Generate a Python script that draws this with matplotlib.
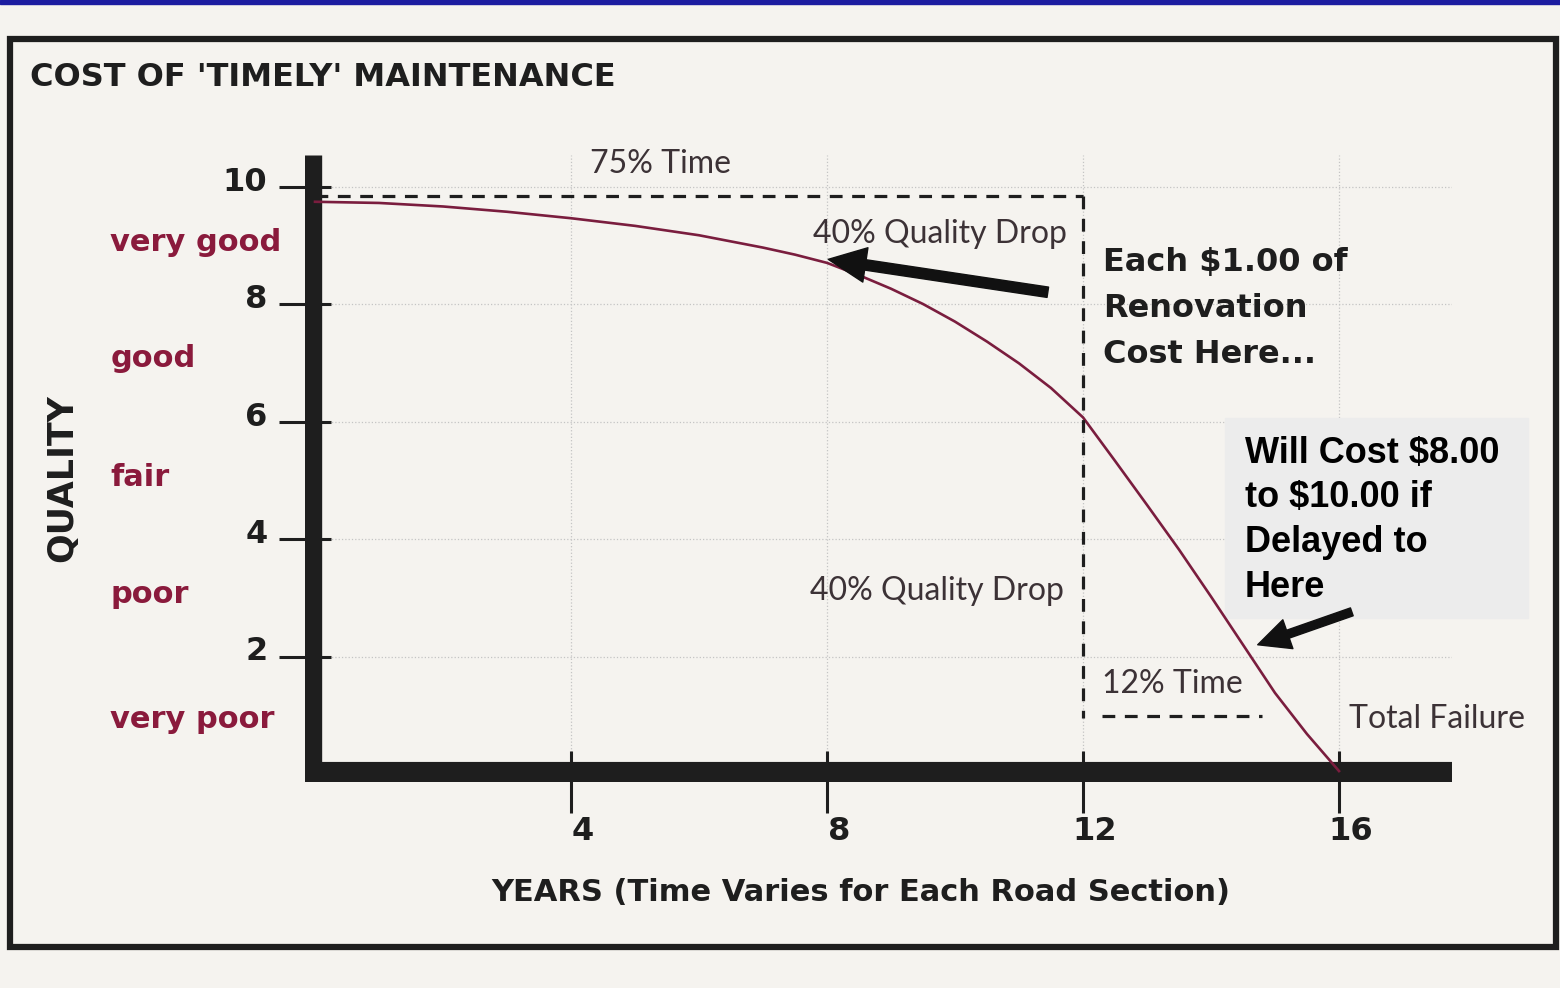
import matplotlib
matplotlib.use("Agg")
import matplotlib.pyplot as plt
import matplotlib.transforms as mtrans
from matplotlib.patches import Rectangle

# quality curve
years = [0, 1, 2, 3, 4, 5, 6, 7, 7.5, 8, 8.5, 9, 9.5, 10, 10.5, 11, 11.5, 12,
         12.5, 13, 13.5, 14, 14.5, 15, 15.5, 16]
quality = [9.74, 9.72, 9.66, 9.57, 9.46, 9.33, 9.17, 8.96, 8.84, 8.70, 8.49, 8.26,
           8.0, 7.7, 7.36, 6.99, 6.57, 6.07, 5.33, 4.58, 3.82, 3.02, 2.2, 1.38, 0.68, 0.05]

ytick_vals = [2, 4, 6, 8, 10]
xtick_vals = [4, 8, 12, 16]
grade_names = ["very good", "good", "fair", "poor", "very poor"]
grade_levels = [9.05, 7.08, 5.04, 3.05, 0.92]

W, H = 1560, 988
BG = "#f5f3ef"
MAROON = "#8a1a3c"
INK = "#1e1e1e"
LIGHT_TXT = "#3c3236"
LIGHT = ["Lato", "DejaVu Sans"]

fig = plt.figure(figsize=(W / 100, H / 100), dpi=100)
fig.patch.set_facecolor(BG)

# overlay in pixel coords for frame and free text
bg = fig.add_axes([0, 0, 1, 1], zorder=5)
bg.set_xlim(0, W)
bg.set_ylim(H, 0)
bg.axis("off")
bg.patch.set_alpha(0)

bg.add_patch(Rectangle((0, 0), W, 4, color="#1c1ca0"))
bg.add_patch(Rectangle((10, 39), 1546, 908, fill=False, lw=4.5, ec=INK))

bg.text(30, 77, "COST OF 'TIMELY' MAINTENANCE", weight="bold",
        fontsize=23, color=INK, va="center")
bg.text(62, 478, "QUALITY", weight="bold", fontsize=25,
        color=INK, rotation=90, ha="center", va="center")
bg.text(861, 892, "YEARS (Time Varies for Each Road Section)",
        weight="bold", fontsize=22, color=INK, ha="center", va="center")

# main chart axes
x0, x1 = 305, 1452
y0, y1 = 155, 782
ax = fig.add_axes([x0 / W, 1 - y1 / H, (x1 - x0) / W, (y1 - y0) / H], zorder=2)
ax.patch.set_alpha(0)
ax.set_xlim((x0 - 315) / 64, (x1 - 315) / 64)
ax.set_ylim((774 - y1) / 58.75, (774 - y0) / 58.75)
for s in ax.spines.values():
    s.set_visible(False)

ax.set_axisbelow(True)
ax.grid(True, color="#c4c4c4", lw=0.9, ls=":")

ax.axvline(ax.get_xlim()[0] + 0.13, color=INK, lw=12.5, solid_capstyle="butt")
ax.axhline(0.034, color=INK, lw=14.5, solid_capstyle="butt")

ax.set_yticks(ytick_vals)
ax.set_yticklabels([str(v) for v in ytick_vals], weight="bold", fontsize=23, color=INK)
ax.set_xticks(xtick_vals)
ax.set_xticklabels([str(v) for v in xtick_vals], weight="bold", fontsize=23, color=INK)
ax.tick_params(axis="y", direction="inout", length=38, width=2.2, pad=8, color=INK)
ax.tick_params(axis="x", direction="inout", length=45, width=2.2, pad=2, color=INK)
for lab in ax.get_yticklabels():
    lab.set_transform(lab.get_transform() + mtrans.ScaledTranslation(0, 0.08, fig.dpi_scale_trans))
for lab in ax.get_xticklabels():
    lab.set_transform(lab.get_transform() + mtrans.ScaledTranslation(0.12, 0, fig.dpi_scale_trans))

for name, lvl in zip(grade_names, grade_levels):
    ax.text(-3.2, lvl, name, weight="bold", fontsize=22,
            color=MAROON, va="center", ha="left")

# grey note box behind text
ax.add_patch(Rectangle((1225, 418), 303, 200, transform=bg.transData,
                       color="#ececec", zorder=1, clip_on=False))

ax.plot(years, quality, color="#7a1d3e", lw=1.9, zorder=3, solid_joinstyle="round")

dash = (0, (4, 3))
ax.plot([0, 12], [9.84, 9.84], color=INK, lw=2.3, ls=dash, zorder=3)
ax.plot([12, 12], [9.84, 0.95], color=INK, lw=2.3, ls=dash, zorder=3)
ax.plot([12.3, 14.8], [0.98, 0.98], color=INK, lw=2.3, ls=dash, zorder=3)

ax.annotate("", xy=(8.02, 8.76), xytext=(11.45, 8.2),
            arrowprops=dict(width=7.5, headwidth=25, headlength=27, color="#111111", shrink=0))
ax.annotate("", xy=(14.73, 2.2), xytext=(16.2, 2.76),
            arrowprops=dict(width=6, headwidth=22, headlength=23, color="#111111", shrink=0))

ax.text(5.4, 10.38, "75% Time", family=LIGHT, fontsize=23,
        color=LIGHT_TXT, ha="center", va="center")
ax.text(11.75, 9.2, "40% Quality Drop", family=LIGHT, fontsize=23,
        color=LIGHT_TXT, ha="right", va="center")
ax.text(11.7, 3.11, "40% Quality Drop", family=LIGHT, fontsize=23,
        color=LIGHT_TXT, ha="right", va="center")
ax.text(12.3, 1.53, "12% Time", family=LIGHT, fontsize=23,
        color=LIGHT_TXT, ha="left", va="center")
ax.text(16.15, 0.94, "Total Failure", family=LIGHT, fontsize=23,
        color=LIGHT_TXT, ha="left", va="center")

for i, line in enumerate(["Each $1.00 of", "Renovation", "Cost Here..."]):
    bg.text(1103, 262 + i * 46, line, weight="bold", fontsize=23,
            color=INK, va="center")

for i, line in enumerate(["Will Cost $8.00", "to $10.00 if", "Delayed to", "Here"]):
    bg.text(1245, 453 + i * 44.7, line, family=["Liberation Sans", "DejaVu Sans"],
            weight="bold", fontsize=26, color="black", va="center")

fig.savefig("out.png", dpi=100, facecolor=fig.get_facecolor())
